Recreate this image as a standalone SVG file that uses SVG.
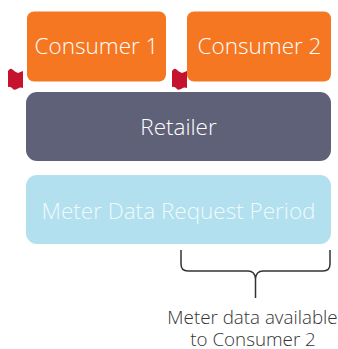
<svg xmlns="http://www.w3.org/2000/svg" width="338" height="349" viewBox="0 0 338 349">
<style>
text{font-family:"Open Sans","Noto Sans","Liberation Sans",sans-serif;font-weight:300;text-anchor:middle}
.box{font-size:22.500px;fill:#fff}
.cap{font-size:18.800px;fill:#333}
.flag{fill:#c4122f}
</style>
<rect width="338" height="349" fill="#fff"/>
<g id="flag-1"><path class="flag" d="M8 71Q10.500 67.500 12.500 69.500T18 73L23 71V88Q20 87 18 88.500T13.500 89.500Q11 86 8 87Z"/></g>
<g id="flag-2"><path class="flag" d="M172 71Q174.500 67.500 176.500 69.500T182 73L187 71V88Q184 87 182 88.500T177.500 89.500Q175 86 172 87Z"/></g>
<g id="consumer-1"><rect x="27" y="11.500" width="139" height="70" rx="7" fill="#f57722"/><text class="box" x="96.500" y="54">Consumer 1</text></g>
<g id="consumer-2"><rect x="187" y="11.500" width="144" height="70" rx="7" fill="#f57722"/><text class="box" x="259.500" y="54">Consumer 2</text></g>
<g id="retailer"><rect x="26" y="92" width="305" height="69" rx="11" fill="#5f6178"/><text class="box" x="178.500" y="135">Retailer</text></g>
<g id="period"><rect x="26" y="175" width="305" height="69" rx="11" fill="#b2e0ee"/><text class="box" x="178.500" y="219" style="fill:#f0fafc">Meter Data Request Period</text></g>
<g id="connectors"><path d="M181 250V264Q181 271 188 271H248Q255 271 255.500 279V298M330 250V264Q330 271 323 271H263Q256 271 255.500 279" fill="none" stroke="#333" stroke-width="1.500"/></g>
<g id="caption"><text class="cap" x="252.500" y="324">Meter data available</text><text class="cap" x="253" y="346">to Consumer 2</text></g>
</svg>
